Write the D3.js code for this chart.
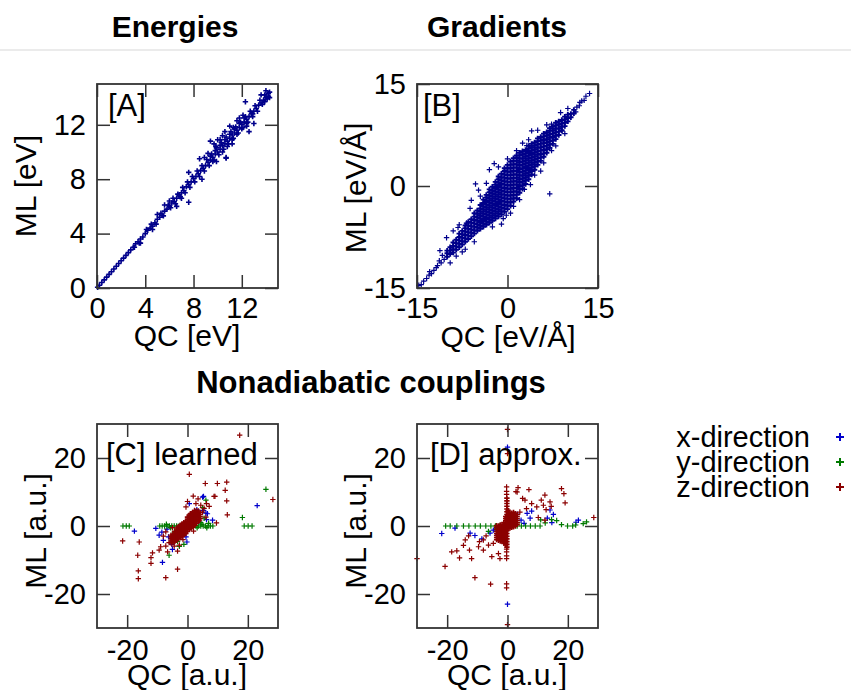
<!DOCTYPE html>
<html lang="en">
<head>
<meta charset="utf-8">
<title>ML vs QC</title>
<script src="https://d3js.org/d3.v7.min.js"></script>
<style>
  body { margin: 0; background: #fff; }
  svg text { font-family: "Liberation Sans", Arial, sans-serif; fill: #000; }
  .title { font-weight: bold; font-size: 30px; text-anchor: middle; }
  .tick text { font-size: 29px; font-family: "Liberation Sans", Arial, sans-serif; fill: #000; }
  .tick line { stroke: #333; stroke-width: 1.5; }
  .axis-title { font-size: 30px; text-anchor: middle; }
  .panel-label { font-size: 31px; }
  .legend text { font-size: 29px; text-anchor: end; }
  .frame { fill: none; stroke: #333; stroke-width: 1.8; }
</style>
</head>
<body>
<script>
// ---- data ----
const energyTicks = [0, 4, 8, 12];
const gradientTicks = [-15, 0, 15];
const couplingTicks = [-20, 0, 20];
const directions = ["x-direction", "y-direction", "z-direction"];

// [QC, ML] in eV
const energyPoints = [
  [0.05,0.05],[0.2,0.2],[0.4,0.4],[0.6,0.6],[0.8,0.8],[1.0,1.0],[1.2,1.2],[1.4,1.4],[1.6,1.6],[1.8,1.8],
  [2.0,2.0],[2.2,2.2],[2.4,2.4],[2.6,2.6],[2.8,2.8],[3.0,3.0],[3.2,3.25],[3.4,3.4],[3.6,3.6],[3.8,3.75],
  [4.0,4.0],[4.2,4.25],[4.4,4.4],[4.6,4.55],[4.8,4.8],[5.0,5.05],[5.2,5.2],[5.4,5.35],[5.6,5.65],[5.8,5.8],
  [6.0,6.0],[6.2,6.25],[6.4,6.35],[6.6,6.6],[6.8,6.85],[7.0,7.0],[7.2,7.15],[7.4,7.45],[7.6,7.6],[7.8,7.8],
  [8.0,8.05],[8.2,8.2],[8.4,8.4],[8.6,8.65],[8.8,8.8],[9.0,9.0],[9.2,9.25],[9.4,9.4],[9.6,9.6],[9.8,9.85],
  [10.0,10.0],[10.2,10.2],[10.4,10.45],[10.6,10.6],[10.8,10.8],[11.0,11.0],[11.2,11.25],[11.4,11.4],[11.6,11.6],[11.8,11.8],
  [12.0,12.05],[12.2,12.2],[12.4,12.4],[12.6,12.6],[12.8,12.85],[13.0,13.0],[13.2,13.2],[13.4,13.45],[13.6,13.6],[13.8,13.8],[14.0,14.0],
  [3.1,3.0],[3.5,3.3],[4.1,4.3],[4.5,4.7],[4.9,4.7],[5.3,5.5],[5.5,5.3],[5.9,6.1],[6.1,5.9],[6.3,6.6],
  [6.5,6.2],[6.7,6.9],[6.9,6.7],[7.1,7.4],[7.3,7.0],[7.5,7.8],[7.7,7.4],[7.9,8.2],[8.1,7.8],[8.3,8.6],
  [8.5,8.2],[8.7,9.0],[8.9,8.6],[9.1,9.45],[9.3,9.0],[9.5,9.85],[9.7,9.4],[9.9,10.3],[10.1,9.8],[10.3,10.7],
  [10.5,10.2],[10.7,11.1],[10.9,10.6],[11.1,11.5],[11.3,11.0],[11.5,11.85],[11.7,11.4],[11.9,12.2],[12.1,11.8],[12.3,12.6],
  [12.5,12.2],[12.7,13.0],[12.9,12.6],[13.1,13.4],[13.3,13.0],[13.5,13.8],[13.7,13.5],[13.9,14.2],[14.1,13.9],[14.2,14.3],[14.3,14.0],
  [9.4,9.7],[9.6,9.3],[9.8,10.1],[10.2,10.5],[10.4,10.0],[10.6,10.9],[10.8,10.4],[11.0,11.3],[11.2,10.9],[11.4,11.7],
  [11.6,11.3],[11.8,12.1],[12.0,11.7],[12.2,12.5],[12.4,12.1],
  [12.3,13.7],[14.3,14.4],[14.2,14.1],[13.9,13.7],[12.9,12.8],[13.0,12.1],[11.3,11.8],[10.6,11.5],[9.7,10.6],[9.85,10.4],
  [10.7,9.6],[10.7,9.55],[12.6,11.5],[8.5,9.5],[9.4,10.8],[7.6,8.5],[8.7,8.0],[6.6,6.0],[5.6,6.1],[7.6,6.3],
  [10.2,10.9],[11.0,11.9],[11.6,12.3],[10.0,10.9],[9.9,9.3],[11.2,10.6],[12.4,11.9],[8.9,9.6],[9.2,9.9],[10.4,11.2],
  [11.8,12.5],[13.6,14.2],[14.0,14.5],[12.1,12.7],[5.0,5.4],[4.6,4.3],[6.0,6.4],[7.0,6.6],[3.6,3.3]
];

// gradient cloud, each row: [QC, ML, ML, ...] in eV/Å
const gradientRows = [
  [-10.0,-10.4,-9.9,-9.5],
  [-9.5,-10.0,-9.5,-9.0],
  [-9.0,-9.8,-9.3,-8.8,-8.3],
  [-8.5,-9.4,-8.9,-8.4,-7.9],
  [-8.0,-9.0,-8.5,-8.0,-7.5,-7.0],
  [-7.5,-8.6,-8.1,-7.6,-7.1,-6.6],
  [-7.0,-8.2,-7.7,-7.2,-6.7,-6.2,-5.8],
  [-6.5,-7.8,-7.3,-6.8,-6.3,-5.8,-5.3],
  [-6.0,-7.4,-6.9,-6.4,-5.9,-5.4,-4.9],
  [-5.5,-7.0,-6.5,-6.0,-5.5,-5.0,-4.5,-4.0],
  [-5.0,-6.6,-6.1,-5.6,-5.1,-4.6,-4.1,-3.6],
  [-4.5,-6.3,-5.8,-5.3,-4.8,-4.3,-3.8,-3.3,-2.8],
  [-4.0,-6.0,-5.5,-5.0,-4.5,-4.0,-3.5,-3.0,-2.5,-2.0],
  [-3.5,-5.7,-5.2,-4.7,-4.2,-3.7,-3.2,-2.7,-2.2,-1.7,-1.3],
  [-3.0,-5.4,-4.9,-4.4,-3.9,-3.4,-2.9,-2.4,-1.9,-1.4,-0.9,-0.5],
  [-2.5,-5.1,-4.6,-4.1,-3.6,-3.1,-2.6,-2.1,-1.6,-1.1,-0.6,-0.1],
  [-2.0,-4.8,-4.3,-3.8,-3.3,-2.8,-2.3,-1.8,-1.3,-0.8,-0.3,0.2,0.6],
  [-1.5,-4.5,-4.0,-3.5,-3.0,-2.5,-2.0,-1.5,-1.0,-0.5,0.0,0.5,1.0,1.4],
  [-1.0,-4.2,-3.7,-3.2,-2.7,-2.2,-1.7,-1.2,-0.7,-0.2,0.3,0.8,1.3,1.8],
  [-0.5,-3.8,-3.3,-2.8,-2.3,-1.8,-1.3,-0.8,-0.3,0.2,0.7,1.2,1.7,2.2,2.6],
  [0.0,-3.4,-2.9,-2.4,-1.9,-1.4,-0.9,-0.4,0.1,0.6,1.1,1.6,2.1,2.6,3.1],
  [0.5,-2.9,-2.4,-1.9,-1.4,-0.9,-0.4,0.1,0.6,1.1,1.6,2.1,2.6,3.1,3.6],
  [1.0,-2.3,-1.8,-1.3,-0.8,-0.3,0.2,0.7,1.2,1.7,2.2,2.7,3.2,3.7,4.1],
  [1.5,-1.8,-1.3,-0.8,-0.3,0.2,0.7,1.2,1.7,2.2,2.7,3.2,3.7,4.2,4.5],
  [2.0,-1.0,-0.5,0.0,0.5,1.0,1.5,2.0,2.5,3.0,3.5,4.0,4.5,4.9],
  [2.5,-0.4,0.1,0.6,1.1,1.6,2.1,2.6,3.1,3.6,4.1,4.6,5.1],
  [3.0,0.3,0.8,1.3,1.8,2.3,2.8,3.3,3.8,4.3,4.8,5.3],
  [3.5,1.0,1.5,2.0,2.5,3.0,3.5,4.0,4.5,5.0,5.5,5.9],
  [4.0,1.7,2.2,2.7,3.2,3.7,4.2,4.7,5.2,5.7,6.2],
  [4.5,2.4,2.9,3.4,3.9,4.4,4.9,5.4,5.9,6.4],
  [5.0,3.1,3.6,4.1,4.6,5.1,5.6,6.1,6.6,7.0],
  [5.5,3.7,4.2,4.7,5.2,5.7,6.2,6.7,7.2],
  [6.0,4.3,4.8,5.3,5.8,6.3,6.8,7.3,7.7],
  [6.5,4.9,5.4,5.9,6.4,6.9,7.4,7.9],
  [7.0,5.6,6.1,6.6,7.1,7.6,8.1,8.5],
  [7.5,6.2,6.7,7.2,7.7,8.2,8.7],
  [8.0,6.9,7.4,7.9,8.4,8.9,9.3],
  [8.5,7.5,8.0,8.5,9.0,9.5],
  [9.0,8.2,8.7,9.2,9.7],
  [9.5,8.8,9.3,9.8,10.2],
  [10.0,9.5,10.0,10.5],
  [10.5,10.1,10.6],
  [11.0,10.7,11.2]
];
// sparse gradient points: tails and outliers [QC, ML]
const gradientSparse = [
  [-10.5,-10.8],[-11.0,-11.3],[-11.3,-11.0],[-11.8,-12.0],[-12.2,-12.4],[-12.6,-12.9],[-13.0,-13.1],[-13.4,-13.6],
  [-13.9,-14.0],[-14.3,-14.5],[-14.7,-14.6],[-10.8,-10.2],[-11.6,-11.7],[-12.9,-12.6],
  [11.5,11.6],[11.9,11.8],[12.3,12.5],[12.7,12.6],[13.0,13.2],[13.6,13.6],[11.3,10.9],[12.0,12.3],
  [4.0,8.1],[7.3,9.1],[9.0,8.1],[7.3,5.2],[7.0,-1.15],[-3.0,2.4],[-5.3,0.3],[-0.7,-4.8],[-8.2,-6.1],
  [-10.1,-7.6],[-6.0,-2.1],[3.2,5.95],[5.9,6.7],[-6.8,-5.45],[-11.2,-9.5],[-9.0,-6.6],[-7.5,-9.7],[-5.5,-8.2],
  [-2.5,-6.0],[1.0,-3.0],[2.8,-0.5],[4.5,1.6],[6.0,3.4],[8.0,5.9],[9.5,7.7],[-4.5,-1.5],[-3.5,0.4],[-1.5,2.8],
  [0.0,4.0],[1.5,5.2],[2.5,6.3],[3.5,6.8],[5.0,8.2],[6.5,9.0],[-9.5,-11.3],[-8.5,-10.3],[-7.0,-9.3],[3.8,0.2],
  [5.5,2.2],[-1.0,-5.6],[0.5,-4.0],[-6.2,-3.3],[-8.0,-5.7],[8.8,10.8],[10.0,11.4],[-2.2,3.3],[-0.2,-4.3],[2.0,-2.0],[-4.8,-0.6]
];

// nonadiabatic couplings, learned model [QC, ML] in a.u.
const learnedX = [
  [-17.6,-1.5],[-10.5,-0.7],[-9.4,-2.7],[-8.5,-1.8],[-8.0,-4.2],[-8.3,-10.7],[-6.3,-3.2],[-5.0,-6.9],[-5.2,-5.4],[-4.4,-4.2],
  [-2.2,-1.3],[-1.1,-2.3],[-0.5,-3.2],[-0.2,-4.7],[0.6,6.6],[1.2,3.6],[2.3,2.7],[3.1,4.8],[5.3,8.7],[5.0,8.5],
  [5.3,4.6],[6.1,3.8],[6.6,3.6],[6.3,1.9],[8.3,1.7],[23.1,6.0],[-3.0,-0.4],[1.8,0.5],[3.8,1.2],[-6.8,-0.9]
];
const learnedY = [
  [-21.4,0],[-20.3,0],[-19.3,0],[18.8,0],[20.1,0],[21.4,0],[26.0,10.8],[18.2,2.5],
  [-9.2,0],[-8.4,0],[-7.6,0],[-6.8,0],[-6.0,0],[-5.2,0],[-4.4,0],[-3.6,0],[-2.8,0],[-2.0,0],[-1.2,0],[-0.4,0],
  [0.4,0],[1.2,0],[2.0,0],[2.8,0],[3.6,0],[4.4,0],[5.2,0],[6.0,0],[6.8,0],[7.6,0],[8.4,0],
  [-7.0,0.5],[-5.6,-0.5],[3.2,-0.5],[4.8,0.5],[6.4,-0.5],
  [-6.1,-8.6],[-2.7,-6.0],[6.1,7.6],[5.0,5.4],[-5.0,-3.0],[-4.4,-1.8],[-1.2,-5.4],[-3.3,-4.5],[4.4,1.0],[5.5,2.3],[7.0,0.8]
];
// dense core of the learned z component, each row: [QC, ML, ML, ...]
const learnedZRows = [
  [-5.4,-5.0,-4.4,-3.8,-3.2],
  [-4.8,-4.8,-4.2,-3.6,-3.0,-2.4],
  [-4.2,-4.6,-4.0,-3.4,-2.8,-2.2,-1.6],
  [-3.6,-4.2,-3.6,-3.0,-2.4,-1.8,-1.2,-0.6],
  [-3.0,-3.8,-3.2,-2.6,-2.0,-1.4,-0.8,-0.2],
  [-2.4,-3.4,-2.8,-2.2,-1.6,-1.0,-0.4,0.2],
  [-1.8,-3.0,-2.4,-1.8,-1.2,-0.6,0.0,0.6],
  [-1.2,-2.6,-2.0,-1.4,-0.8,-0.2,0.4,1.0],
  [-0.6,-2.2,-1.6,-1.0,-0.4,0.2,0.8,1.4],
  [0.0,-1.6,-1.0,-0.4,0.2,0.8,1.4,2.0,2.6],
  [0.6,-1.0,-0.4,0.2,0.8,1.4,2.0,2.6,3.2],
  [1.2,-0.6,0.0,0.6,1.2,1.8,2.4,3.0,3.6],
  [1.8,-0.2,0.4,1.0,1.6,2.2,2.8,3.4,4.0],
  [2.4,0.2,0.8,1.4,2.0,2.6,3.2,3.8,4.4],
  [3.0,0.8,1.4,2.0,2.6,3.2,3.8,4.4],
  [3.6,1.4,2.0,2.6,3.2,3.8,4.4],
  [4.2,2.2,2.8,3.4,4.0]
];
const learnedZ = [
  [1.9,8.8],[3.5,8.0],[0.0,7.2],[2.8,6.6],[4.4,6.1],[6.3,6.6],[7.2,5.8],[2.3,4.6],[5.0,4.1],[6.1,2.6],
  [8.8,8.7],[9.6,0.9],[4.0,1.7],[-0.5,5.6],[0.9,3.6],
  [0.6,15.2],[-21.5,-4.4],[-16.0,-4.7],[-16.5,-8.6],[-16.3,-13.2],[-16.3,-15.5],[-12.1,-11.0],[-7.2,-15.2],[-3.3,-12.7],
  [5.9,12.5],[9.9,12.5],[13.0,12.9],[12.5,10.5],[13.0,7.4],[13.2,3.3],[9.1,8.7],[28.3,7.8],[17.3,26.7],
  [-12.1,-9.3],[-11.6,-7.9],[-9.4,-7.1],[-8.9,-6.1],[-7.2,-5.9],[-6.1,-4.9],[-6.6,-7.6],[-4.4,-5.9],[-3.3,-7.4],
  [-2.7,-5.6],[-5.5,-2.7],[-7.2,-1.7],[-5.0,-0.5],[-8.0,-3.0],[-1.5,-4.0],[2.0,-1.5],[5.5,5.2]
];

// nonadiabatic couplings, approximated [QC, ML] in a.u.
const approxX = [
  [-21.8,-2.2],[-17.4,-0.6],[-12.4,-2.1],[-10.8,-2.8],[-8.5,-3.8],[-4.7,-1.2],[-5.8,-2.1],[-2.5,-1.2],[-1.5,-3.0],[-3.3,-2.6],
  [7.5,2.3],[8.0,4.4],[14.1,4.7],[15.2,3.4],[13.2,2.3],[14.7,1.0],[23.5,1.7],[22.7,1.1],
  [0.0,23.2],[0.0,-23.0],[2.5,2.0],[4.5,1.7],[5.5,0.8],[6.5,3.7],[3.2,3.5]
];
const approxY = [
  [-20.5,0],[-19.0,0],[-16.8,0],[-14.6,0],[-12.8,0],[-10.7,0],[-9.0,0],[-7.2,0],[-5.5,0],[-4.0,0],[-2.6,0],[-1.2,0],
  [0.4,0],[1.8,0],[3.2,0],[4.6,0],[6.0,0],[7.6,0],[9.2,0],[10.8,0],[19.9,0],[21.6,0],[22.6,0.3],
  [25.1,0.7],[26.2,1.2],[14.6,1.9],[16.3,1.6],[17.9,0.4],[12.5,0.9],[11.0,1.8],[3.3,1.0],[-6.3,-1.6],[-3.5,-0.8]
];
const approxZRows = [
  [-3.6,-4.0,-3.4,-2.8,-2.2,-1.6,-1.0,-0.4,0.1],
  [-3.0,-4.2,-3.6,-3.0,-2.4,-1.8,-1.2,-0.6,0.0],
  [-2.4,-4.4,-3.8,-3.2,-2.6,-2.0,-1.4,-0.8,-0.2,0.3],
  [-1.8,-4.6,-4.0,-3.4,-2.8,-2.2,-1.6,-1.0,-0.4,0.2],
  [-1.2,-5.0,-4.4,-3.8,-3.2,-2.6,-2.0,-1.4,-0.8,-0.2,0.4,1.0],
  [-0.6,-5.6,-5.0,-4.4,-3.8,-3.2,-2.6,-2.0,-1.4,-0.8,-0.2,0.4,1.0,1.6,2.2,2.8],
  [-0.2,-6.2,-5.4,-4.6,-3.8,-3.0,-2.2,-1.4,-0.6,0.2,1.0,1.8,2.6,3.4,4.2,5.0,5.8,6.6,7.4,8.2],
  [0.2,-0.8,-0.2,0.4,1.0,1.6,2.2,2.8,3.4,4.0,4.6],
  [0.8,-0.6,0.0,0.6,1.2,1.8,2.4,3.0,3.6],
  [1.4,-0.4,0.2,0.8,1.4,2.0,2.6,3.2,3.8],
  [2.0,-0.2,0.4,1.0,1.6,2.2,2.8,3.4,4.0],
  [2.6,0.0,0.6,1.2,1.8,2.4,3.0,3.6],
  [3.2,0.4,1.0,1.6,2.2,2.8,3.4]
];
const approxZ = [
  [-0.3,11.5],[-0.3,10.2],[-0.3,9.3],[-0.3,-6.8],[-0.3,-7.6],[-0.3,-8.8],[-0.3,-9.6],[-0.3,-17.0],[-0.3,-18.2],
  [0.0,21.3],[0.0,28.4],[0.0,-29.0],
  [5.8,7.6],[12.4,9.1],[14.1,7.1],[11.9,6.1],[9.7,5.6],[8.0,6.6],[6.3,5.1],[4.1,4.1],[5.0,8.1],[2.8,10.1],
  [17.9,11.0],[18.7,9.5],[19.1,6.8],[12.4,1.7],[10.2,2.5],[7.1,10.7],[11.2,7.6],[14.5,5.8],[12.8,4.8],[3.5,11.3],
  [3.2,10.0],[28.6,2.5],
  [-18.5,-7.6],[-16.8,-7.3],[-15.9,-9.4],[-14.6,-5.7],[-11.9,-9.6],[-10.8,-15.2],[-5.6,-17.1],[-12.6,-7.1],
  [-9.6,-6.1],[-8.0,-7.1],[-8.0,-4.1],[-6.3,-5.6],[-4.7,-5.1],[-3.0,-8.1],[-2.5,-9.6],[-14.0,-4.1],[-12.9,-2.9],
  [-20.7,-11.9],[-30.0,-9.6],[-7.1,-2.9],[-9.3,-4.6],[-5.2,-9.0]
];

// ---- drawing ----
const navy = "#00008b", blue = "#0000cc", green = "#007a00", red = "#8b0000";
const seriesColors = [blue, green, red];
const unpackRows = rows => rows.flatMap(([qc, ...mls]) => mls.map(ml => [qc, ml]));

const svg = d3.select("body").append("svg").attr("width", 851).attr("height", 690);

svg.append("line").attr("x1", 0).attr("x2", 851).attr("y1", 50).attr("y2", 50)
  .attr("stroke", "#e4e4e4").attr("stroke-width", 1.5);

const titles = [
  { text: "Energies", x: 175, y: 37 },
  { text: "Gradients", x: 497, y: 37 },
  { text: "Nonadiabatic couplings", x: 371, y: 393 }
];
svg.selectAll("text.title").data(titles).join("text")
  .attr("class", "title").attr("x", d => d.x).attr("y", d => d.y)
  .style("font-size", (d, i) => i === 2 ? "31px" : null).text(d => d.text);

const panels = [
  { left: 97, top: 84, domain: [0, 15], ticks: energyTicks, label: "[A]", lx: 108, ly: 116,
    xTitle: "QC [eV]", yTitle: "ML [eV]", xtx: 187, xty: 346, ytx: 36, yty: 186, pad: 9,
    series: [{ points: energyPoints, color: navy, sw: 1.6 }] },
  { left: 417, top: 84, domain: [-15, 15], ticks: gradientTicks, label: "[B]", lx: 423, ly: 116,
    xTitle: "QC [eV/Å]", yTitle: "ML [eV/Å]", xtx: 508, xty: 347, ytx: 366, yty: 188, pad: 9,
    series: [{ points: unpackRows(gradientRows), color: navy, sw: 1.9 },
             { points: gradientSparse, color: navy, sw: 1.2 }] },
  { left: 97, top: 424, domain: [-30, 30], ticks: couplingTicks, label: "[C] learned", lx: 106, ly: 465,
    xTitle: "QC [a.u.]", yTitle: "ML [a.u.]", xtx: 187, xty: 685, ytx: 46, yty: 531, pad: 11,
    series: [{ points: learnedX, color: blue, sw: 1.2 }, { points: learnedY, color: green, sw: 1.2 },
             { points: unpackRows(learnedZRows), color: red, sw: 1.6 }, { points: learnedZ, color: red, sw: 1.2 }] },
  { left: 417, top: 424, domain: [-30, 30], ticks: couplingTicks, label: "[D] approx.", lx: 430, ly: 465,
    xTitle: "QC [a.u.]", yTitle: "ML [a.u.]", xtx: 507, xty: 685, ytx: 366, yty: 531, pad: 11,
    series: [{ points: approxX, color: blue, sw: 1.2 }, { points: approxY, color: green, sw: 1.2 },
             { points: unpackRows(approxZRows), color: red, sw: 1.6 }, { points: approxZ, color: red, sw: 1.2 }] }
];

const plotW = 181, plotH = 204;
const crossPath = "M-2.7,0H2.7M0,-2.7V2.7";

panels.forEach(p => {
  const g = svg.append("g");
  const x = d3.scaleLinear().domain(p.domain).range([p.left, p.left + plotW]);
  const y = d3.scaleLinear().domain(p.domain).range([p.top + plotH, p.top]);

  // scatter crosses
  p.series.forEach(s => {
    g.append("g").selectAll("path").data(s.points).join("path")
      .attr("d", crossPath)
      .attr("transform", d => `translate(${x(d[0])},${y(d[1])})`)
      .attr("fill", "none").attr("stroke", s.color).attr("stroke-width", s.sw);
  });

  // axes with inward ticks, mirrored on top and right; plain hyphen for negatives
  const fmt = d => String(d);
  const bottom = g.append("g").attr("transform", `translate(0,${p.top + plotH})`)
    .call(d3.axisBottom(x).tickValues(p.ticks).tickFormat(fmt).tickSizeInner(-13).tickSizeOuter(0).tickPadding(p.pad));
  const left = g.append("g").attr("transform", `translate(${p.left},0)`)
    .call(d3.axisLeft(y).tickValues(p.ticks).tickFormat(fmt).tickSizeInner(-13).tickSizeOuter(0).tickPadding(11));
  const top = g.append("g").attr("transform", `translate(0,${p.top})`)
    .call(d3.axisTop(x).tickValues(p.ticks).tickSizeInner(-13).tickSizeOuter(0).tickFormat(""));
  const right = g.append("g").attr("transform", `translate(${p.left + plotW},0)`)
    .call(d3.axisRight(y).tickValues(p.ticks).tickSizeInner(-13).tickSizeOuter(0).tickFormat(""));
  [bottom, left, top, right].forEach(a => a.select(".domain").remove());

  g.append("rect").attr("class", "frame")
    .attr("x", p.left).attr("y", p.top).attr("width", plotW).attr("height", plotH);

  g.append("text").attr("class", "panel-label").attr("x", p.lx).attr("y", p.ly).text(p.label);
  g.append("text").attr("class", "axis-title").attr("x", p.xtx).attr("y", p.xty).text(p.xTitle);
  g.append("text").attr("class", "axis-title")
    .attr("transform", `translate(${p.ytx},${p.yty}) rotate(-90)`).text(p.yTitle);
});

// legend
const legend = svg.append("g").attr("class", "legend");
const legendY = d3.scalePoint().domain(directions).range([447, 497]);
legend.selectAll("text").data(directions).join("text")
  .attr("x", 810).attr("y", d => legendY(d)).text(d => d);
legend.selectAll("path").data(directions).join("path")
  .attr("d", "M-4,0H4M0,-4V4")
  .attr("transform", d => `translate(840,${legendY(d) - 10})`)
  .attr("fill", "none").attr("stroke", (d, i) => seriesColors[i]).attr("stroke-width", 2);
</script>
</body>
</html>
